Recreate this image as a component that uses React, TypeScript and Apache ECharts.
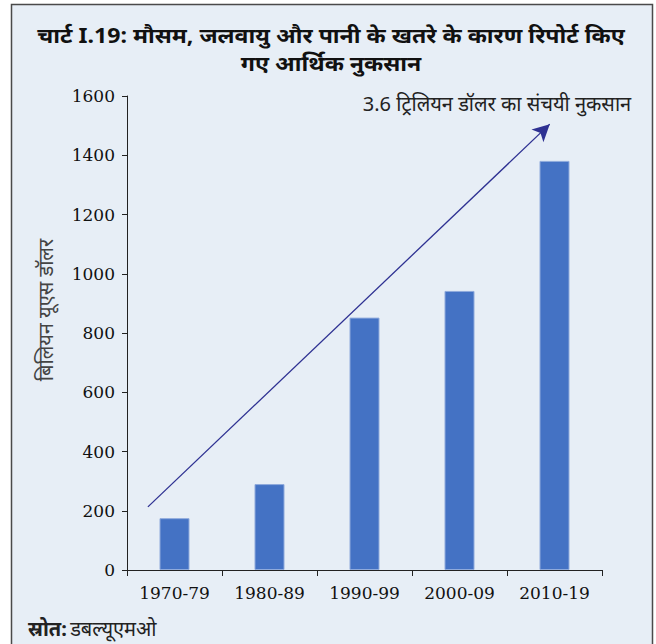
import React, { useEffect, useRef } from "react";
import * as echarts from "echarts";

const categories = ["1970-79", "1980-89", "1990-99", "2000-09", "2010-19"];
const losses = [175, 290, 852, 942, 1381];
const yTicks = { min: 0, max: 1600, interval: 200 };
const arrowStart = [-0.28, 213];
const arrowEnd = [3.95, 1505];
const titleLines = [
  "चार्ट I.19: मौसम, जलवायु और पानी के खतरे के कारण रिपोर्ट किए",
  "गए आर्थिक नुकसान",
];
const yAxisName = "बिलियन यूएस डॉलर";
const annotation = "3.6 ट्रिलियन डॉलर का संचयी नुकसान";
const sourceLabel = "स्रोत:";
const sourceText = "डबल्यूएमओ";

const serif = "'DejaVu Serif', serif";
const sans = "'Noto Sans', 'Liberation Sans', sans-serif";

export default function App() {
  const ref = useRef<HTMLDivElement>(null);
  useEffect(() => {
    if (!ref.current) return;
    const chart = echarts.init(ref.current, undefined, { renderer: "svg" });
    const titleStyle = {
      fontFamily: sans,
      fontSize: 21,
      fontWeight: "bold",
      fill: "#111",
      align: "center",
      verticalAlign: "middle",
    };
    chart.setOption({
      animation: false,
      backgroundColor: "#ffffff",
      grid: { left: 127, top: 96, width: 475, height: 474, containLabel: false },
      xAxis: [
        {
          type: "category",
          data: categories,
          axisLine: { lineStyle: { color: "#222", width: 1 } },
          axisTick: { show: true, length: 6, lineStyle: { color: "#222" } },
          axisLabel: { fontFamily: serif, fontSize: 17, color: "#111", margin: 14 },
        },
        { type: "value", min: -0.5, max: 4.5, show: false },
      ],
      yAxis: {
        type: "value",
        min: yTicks.min,
        max: yTicks.max,
        interval: yTicks.interval,
        axisLine: { show: true, onZero: false, lineStyle: { color: "#222", width: 1 } },
        axisTick: { show: true, length: 5, lineStyle: { color: "#222" } },
        axisLabel: {
          fontFamily: serif,
          fontSize: 17,
          color: "#111",
          margin: 12,
          formatter: (v: number) => String(v),
        },
        splitLine: { show: false },
      },
      series: [
        {
          type: "bar",
          data: losses,
          barWidth: 30,
          itemStyle: { color: "#4472C4", borderColor: "#8FAADC", borderWidth: 1 },
        },
        {
          type: "scatter",
          xAxisIndex: 1,
          data: [arrowStart],
          symbolSize: 0,
          silent: true,
          markLine: {
            silent: true,
            symbol: ["none", "arrow"],
            symbolSize: [13, 17],
            label: { show: false },
            lineStyle: { color: "#2E3192", width: 1.3, type: "solid" },
            data: [[{ coord: arrowStart }, { coord: arrowEnd }]],
          },
        },
      ],
      graphic: [
        {
          type: "rect",
          z: -100,
          shape: { x: 11.5, y: 4.5, width: 641, height: 680 },
          style: { fill: "#E7EEF6", stroke: "#4a4a4a", lineWidth: 1.5 },
        },
        {
          type: "text",
          x: 331,
          y: 34,
          scaleX: 1.1,
          style: { ...titleStyle, text: titleLines[0] },
        },
        {
          type: "text",
          x: 331,
          y: 62,
          scaleX: 1.1,
          style: { ...titleStyle, text: titleLines[1] },
        },
        {
          type: "text",
          x: 45,
          y: 310,
          rotation: Math.PI / 2,
          style: {
            text: yAxisName,
            fontFamily: sans,
            fontSize: 20,
            fill: "#444",
            align: "center",
            verticalAlign: "middle",
          },
        },
        {
          type: "text",
          x: 497,
          y: 103,
          style: {
            text: annotation,
            fontFamily: sans,
            fontSize: 20,
            fill: "#222",
            align: "center",
            verticalAlign: "middle",
          },
        },
        {
          type: "text",
          x: 28,
          y: 628,
          style: {
            text: "{b|" + sourceLabel + "} {n|" + sourceText + "}",
            verticalAlign: "middle",
            rich: {
              b: { fontFamily: sans, fontSize: 20, fontWeight: "bold", fill: "#222" },
              n: { fontFamily: sans, fontSize: 20, fill: "#222" },
            },
          },
        },
      ],
    });
    return () => chart.dispose();
  }, []);
  return (
    <div
      ref={ref}
      style={{ position: "fixed", left: 0, top: 0, width: 656, height: 644 }}
    />
  );
}
